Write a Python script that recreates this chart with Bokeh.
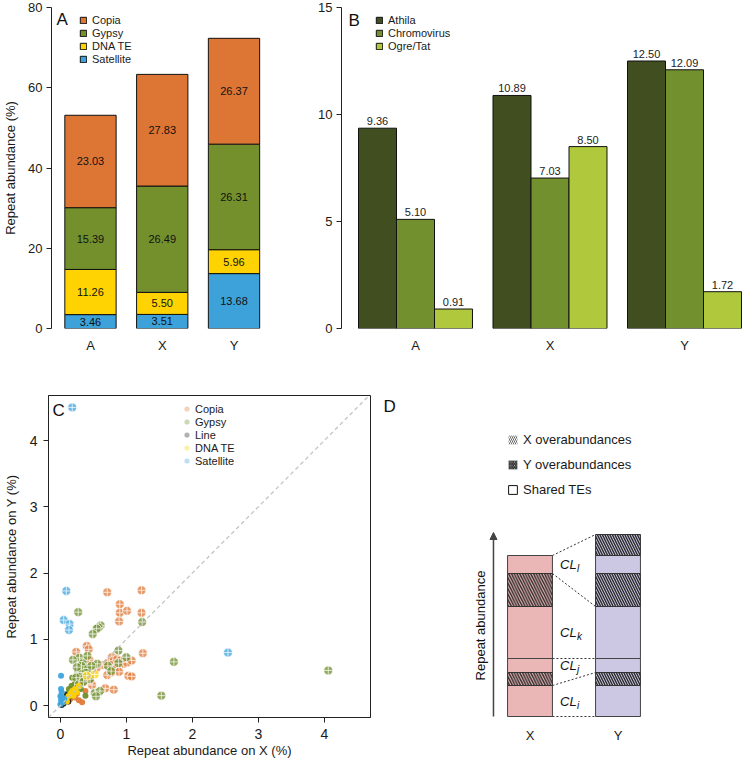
import numpy as np
from bokeh.plotting import figure
from bokeh.layouts import row, column
from bokeh.models import (Range1d, FixedTicker, Legend, LegendItem, Label, Slope,
                          Arrow, NormalHead, ColumnDataSource)
from bokeh.core.properties import value
from bokeh.embed import file_html
from bokeh.resources import INLINE

FONT = "Liberation Sans"
TXT = "#1a1a1a"

# ---------------- data ----------------
groups = ["A", "X", "Y"]

# Panel A (stacked, bottom to top)
a_series = ["Satellite", "DNA TE", "Gypsy", "Copia"]
a_satellite = [3.46, 3.51, 13.68]
a_dna_te = [11.26, 5.50, 5.96]
a_gypsy = [15.39, 26.49, 26.31]
a_copia = [23.03, 27.83, 26.37]
a_colors = ["#3DA2DA", "#FFD301", "#73902D", "#DD7634"]

# Panel B (grouped)
b_series = ["Athila", "Chromovirus", "Ogre/Tat"]
b_athila = [9.36, 10.89, 12.50]
b_chromovirus = [5.10, 7.03, 12.09]
b_ogre_tat = [0.91, 8.50, 1.72]
b_colors = ["#404E20", "#72902E", "#AFC83C"]

# Panel C (scatter, X vs Y abundance)
c_series = ["Copia", "Gypsy", "Line", "DNA TE", "Satellite"]
c_colors = ["#E07A38", "#6F8F2B", "#222222", "#FFD200", "#3FA4DD"]
copia_x = [0.71, 1.23, 0.90, 0.90, 1.01, 1.23, 0.89, 1.25, 0.40, 0.43, 0.24, 0.44, 0.65, 0.71,
           0.78, 0.81, 0.86, 0.91, 0.96, 1.01, 1.08, 0.85, 0.89, 0.71, 0.77, 1.03, 1.08, 0.48,
           0.68, 0.81, 0.29, 0.37, 0.45, 0.33, 0.25, 0.20, 0.22, 0.28, 0.33, 0.15, 0.12, 0.18,
           0.38, 0.10, 0.25, 0.55]
copia_y = [1.71, 1.74, 1.53, 1.40, 1.43, 1.40, 1.27, 0.79, 0.90, 0.85, 0.81, 0.69, 0.61, 0.64,
           0.73, 0.68, 0.70, 0.68, 0.63, 0.65, 0.68, 0.56, 0.51, 0.46, 0.50, 0.45, 0.44, 0.31,
           0.26, 0.24, 0.48, 0.40, 0.39, 0.35, 0.28, 0.22, 0.12, 0.08, 0.05, 0.10, 0.06, 0.17,
           0.22, 0.14, 0.18, 0.57]
gypsy_x = [0.27, 1.24, 0.61, 0.58, 0.55, 0.49, 0.88, 1.72, 1.53, 1.00, 4.06, 0.88, 0.72, 0.77,
           0.56, 0.35, 0.29, 0.34, 0.32, 0.19, 0.41, 0.30, 0.27, 0.38, 0.24, 0.18, 0.36, 0.45,
           0.22, 0.17, 0.28, 0.13, 0.20, 0.10, 0.14, 0.08, 0.23, 0.31, 0.52, 0.60, 0.38, 0.54,
           0.35, 0.42, 0.47, 0.25]
gypsy_y = [1.41, 1.26, 1.21, 1.18, 1.16, 1.08, 0.83, 0.66, 0.15, 0.73, 0.53, 0.64, 0.60, 0.52,
           0.63, 0.55, 0.72, 0.64, 0.60, 0.69, 0.75, 0.45, 0.50, 0.50, 0.42, 0.42, 0.42, 0.40,
           0.33, 0.30, 0.32, 0.25, 0.20, 0.18, 0.13, 0.10, 0.25, 0.25, 0.19, 0.22, 0.15, 0.14,
           0.36, 0.56, 0.60, 0.58]
line_x = [0.10, 0.12, 0.05, 0.02, 0.08]
line_y = [0.16, 0.06, 0.03, 0.01, 0.12]
dnate_x = [0.52, 0.40, 0.28, 0.22, 0.18, 0.15, 0.12, 0.09, 0.06, 0.04, 0.25, 0.20, 0.10]
dnate_y = [0.47, 0.45, 0.30, 0.25, 0.22, 0.18, 0.14, 0.10, 0.07, 0.05, 0.20, 0.15, 0.06]
sat_x = [0.18, 0.09, 0.05, 0.14, 0.13, 0.01, 2.54, 0.01, 0.02, 0.00, 0.03, 0.01, 0.04, 0.00, 0.06]
sat_y = [4.50, 1.73, 1.29, 1.23, 1.14, 0.45, 0.80, 0.25, 0.20, 0.14, 0.12, 0.08, 0.05, 0.02, 0.10]

# Panel D (schematic, arbitrary abundance units, bottom to top)
d_columns = ["X", "Y"]
d_x_levels = [0, 3.1, 4.4, 5.8, 11.0, 14.3, 16.1]
d_x_kinds = ["shared", "over", "shared", "shared", "over", "shared"]
d_y_levels = [0, 3.1, 4.4, 5.8, 11.0, 14.3, 16.1, 18.2]
d_y_kinds = ["shared", "over", "shared", "shared", "over", "shared", "over"]
d_link_x = [0, 3.1, 5.8, 14.3, 16.1]
d_link_y = [0, 4.4, 5.8, 11.0, 18.2]
d_clusters = ["i", "j", "k", "l"]
d_cluster_lo = [0, 4.4, 5.8, 14.3]
d_cluster_hi = [3.1, 5.8, 11.0, 16.1]
d_legend = ["X overabundances", "Y overabundances", "Shared TEs"]
d_colors = ["#EBB6B6", "#CCC7E3"]


# ---------------- helpers ----------------
def make_fig(**kw):
    p = figure(output_backend="svg", toolbar_location=None, **kw)
    p.grid.visible = False
    p.background_fill_color = "white"
    p.border_fill_color = "white"
    return p


def style_axes(p, label_size="13px", tick_size="13px"):
    for ax in p.axis:
        ax.major_label_text_font = FONT
        ax.major_label_text_font_size = tick_size
        ax.major_label_text_color = TXT
        ax.axis_label_text_font = FONT
        ax.axis_label_text_font_size = label_size
        ax.axis_label_text_font_style = "normal"
        ax.axis_label_text_color = TXT
        ax.minor_tick_line_color = None
        ax.major_tick_in = 0
        ax.major_tick_out = 5
        ax.axis_line_color = "#222"
        ax.major_tick_line_color = "#222"


def style_legend(leg, glyph, spacing, size="11px", standoff=5):
    leg.glyph_width = glyph
    leg.glyph_height = glyph
    leg.label_height = glyph
    leg.label_width = 10
    leg.spacing = spacing
    leg.padding = 0
    leg.margin = 0
    leg.label_standoff = standoff
    leg.border_line_color = None
    leg.background_fill_alpha = 0
    leg.label_text_font = FONT
    leg.label_text_font_size = size
    leg.label_text_color = TXT


def panel_label(p, x, y, t):
    p.add_layout(Label(x=x, y=y, text=t, text_font=FONT, text_font_size="17px",
                       text_baseline="top", text_align="left", text_color="#111"))


def hide_cat_axis(ax):
    ax.axis_line_color = None
    ax.major_tick_line_color = None


xg = [1, 2, 3]
NAN1 = [np.nan]

# ---------------- Panel A ----------------
xa0 = 0.457
pA = make_fig(width=270, height=355, x_range=Range1d(xa0, xa0 + 222 / 72.75), y_range=Range1d(0, 80),
              min_border_left=48, min_border_right=0, min_border_top=7, min_border_bottom=27)
pA.outline_line_color = None
srcA = ColumnDataSource(dict(x=xg, Satellite=a_satellite, Gypsy=a_gypsy, Copia=a_copia,
                             **{"DNA TE": a_dna_te}))
rA = pA.vbar_stack(a_series, x="x", width=0.715, fill_color=a_colors, line_color="#111",
                   line_width=1, source=srcA)
stackA = np.array([a_satellite, a_dna_te, a_gypsy, a_copia])
midsA = stackA.cumsum(axis=0) - stackA / 2
pA.text(x=np.tile(xg, 4), y=midsA.ravel(), text=[f"{v:.2f}" for v in stackA.ravel()],
        text_font=value(FONT), text_font_size="11px", text_align="center",
        text_baseline="middle", text_color="#111")
style_axes(pA, "13px", "13px")
pA.xaxis.ticker = FixedTicker(ticks=xg)
pA.xaxis.major_label_overrides = dict(zip(xg, groups))
hide_cat_axis(pA.xaxis[0])
pA.xaxis.major_label_standoff = 4
pA.yaxis.ticker = FixedTicker(ticks=[0, 20, 40, 60, 80])
pA.yaxis.axis_label = "Repeat abundance (%)"
pA.yaxis.axis_label_standoff = 7
pA.yaxis.major_label_standoff = 4
legA = Legend(items=[LegendItem(label=a_series[i], renderers=[rA[i]]) for i in [3, 2, 1, 0]],
              location=(28, 263))
style_legend(legA, 8, 1)
pA.add_layout(legA)
panel_label(pA, xa0 + 5 / 72.75, 79.3, "A")

# ---------------- Panel B ----------------
pB = make_fig(width=472, height=355, x_range=Range1d(0.4498, 3.4312), y_range=Range1d(0, 15),
              min_border_left=71, min_border_right=0, min_border_top=7, min_border_bottom=27)
pB.outline_line_color = None
wB = 0.2825
rB = []
for k, (vals, col) in enumerate(zip([b_athila, b_chromovirus, b_ogre_tat], b_colors)):
    xs = [g + (k - 1) * wB for g in xg]
    rB.append(pB.vbar(x=xs, top=vals, width=wB, fill_color=col, line_color="#111", line_width=1))
    pB.text(x=xs, y=vals, text=[f"{v:.2f}" for v in vals], y_offset=-3,
            text_font=value(FONT), text_font_size="11px", text_align="center",
            text_baseline="bottom", text_color="#222")
style_axes(pB, "13px", "13px")
pB.xaxis.ticker = FixedTicker(ticks=xg)
pB.xaxis.major_label_overrides = dict(zip(xg, groups))
hide_cat_axis(pB.xaxis[0])
pB.xaxis.major_label_standoff = 4
pB.yaxis.ticker = FixedTicker(ticks=[0, 5, 10, 15])
pB.yaxis.major_label_standoff = 4
legB = Legend(items=[LegendItem(label=s, renderers=[r]) for s, r in zip(b_series, rB)],
              location=(34, 276))
style_legend(legB, 8, 1)
pB.add_layout(legB)
panel_label(pB, 0.4498 + 7 / 134.5, 14.85, "B")

# ---------------- Panel C ----------------
pC = make_fig(width=378, height=405, x_range=Range1d(-0.18, 4.70), y_range=Range1d(-0.18, 4.68),
              min_border_left=48, min_border_right=8, min_border_top=40, min_border_bottom=43)
pC.outline_line_color = "#222"
pC.outline_line_width = 1
pC.add_layout(Slope(gradient=1, y_intercept=0, line_color="#c4c4c4", line_dash="4 3",
                    line_width=1.3))
c_data = [(copia_x, copia_y), (gypsy_x, gypsy_y), (line_x, line_y), (dnate_x, dnate_y),
          (sat_x, sat_y)]
leg_items = []
for name, col, (xs, ys) in zip(c_series, c_colors, c_data):
    xs = np.array(xs)
    ys = np.array(ys)
    big = xs + ys > 0.6
    pC.scatter(x=xs[~big], y=ys[~big], size=6, marker="circle", fill_color=col, fill_alpha=0.95,
               line_color=None)
    pC.scatter(x=xs[big], y=ys[big], size=9, marker="circle_cross", fill_color=col,
               fill_alpha=0.75, line_color="white", line_alpha=0.7, line_width=1)
    dummy = pC.scatter(x=NAN1, y=NAN1, marker="circle", fill_color=col, fill_alpha=0.35,
                       line_color=None)
    leg_items.append(LegendItem(label=name, renderers=[dummy]))
style_axes(pC, "13px", "14px")
pC.xaxis.ticker = FixedTicker(ticks=[0, 1, 2, 3, 4])
pC.yaxis.ticker = FixedTicker(ticks=[0, 1, 2, 3, 4])
pC.xaxis.axis_label = "Repeat abundance on X (%)"
pC.yaxis.axis_label = "Repeat abundance on Y (%)"
pC.xaxis.major_label_standoff = 6
pC.yaxis.major_label_standoff = 6
pC.xaxis.axis_label_standoff = 1
pC.yaxis.axis_label_standoff = 8
legC = Legend(items=leg_items, location=(132, 250))
style_legend(legC, 13, 0, "11px", 2)
pC.add_layout(legC)
panel_label(pC, -0.12, 4.60, "C")

# ---------------- Panel D ----------------
pD = make_fig(width=364, height=405, x_range=Range1d(-1.7216, 2.4148), y_range=Range1d(-0.1, 32.1),
              min_border_left=0, min_border_right=0, min_border_top=40, min_border_bottom=43,
              y_axis_location=None)
pD.outline_line_color = None
hw = 0.255
for ix, (levels, kinds, fill, hs) in enumerate(zip([d_x_levels, d_y_levels],
                                                   [d_x_kinds, d_y_kinds], d_colors, [5.5, 5])):
    lo = np.array(levels[:-1], dtype=float)
    hi = np.array(levels[1:], dtype=float)
    kd = np.array(kinds)
    sh = kd == "shared"
    pD.quad(left=ix - hw, right=ix + hw, bottom=lo[sh], top=hi[sh], fill_color=fill,
            line_color="#444", line_width=1)
    pD.quad(left=ix - hw, right=ix + hw, bottom=lo[~sh], top=hi[~sh], fill_color=fill,
            hatch_pattern="left_diagonal_line", hatch_color="#2a2a2a", hatch_scale=hs,
            hatch_weight=1.4, line_color="#333", line_width=1)
pD.segment(x0=hw, y0=d_link_x, x1=1 - hw, y1=d_link_y, line_dash="2 2", line_color="#333",
           line_width=1)
cmid = (np.array(d_cluster_lo) + np.array(d_cluster_hi)) / 2
pD.text(x=[0.53] * len(cmid), y=cmid, text=["CL"] * len(cmid), text_font=value(FONT),
        text_font_size="13px", text_font_style="italic", text_align="right",
        text_baseline="middle", text_color="#111")
pD.text(x=[0.535] * len(cmid), y=cmid, text=d_clusters, y_offset=4, text_font=value(FONT),
        text_font_size="10px", text_font_style="italic", text_align="left",
        text_baseline="middle", text_color="#111")
top_level = max(d_y_levels)
pD.add_layout(Arrow(end=NormalHead(size=7, fill_color="#444", line_color="#444"),
                    x_start=-0.415, y_start=0, x_end=-0.415, y_end=top_level + 0.2,
                    line_color="#444", line_width=1.5))
pD.text(x=[-0.56], y=[top_level / 2], text=["Repeat abundance"], angle=np.pi / 2,
        text_font=value(FONT), text_font_size="13px", text_align="center",
        text_baseline="middle", text_color="#111")
style_axes(pD, "13px", "13px")
pD.xaxis.ticker = FixedTicker(ticks=[0, 1])
pD.xaxis.major_label_overrides = dict(zip([0, 1], d_columns))
hide_cat_axis(pD.xaxis[0])
pD.xaxis.major_label_standoff = 5
rx = pD.quad(left=NAN1, right=NAN1, bottom=NAN1, top=NAN1, fill_color="white",
             hatch_pattern="left_diagonal_line", hatch_color="#666", hatch_scale=4,
             hatch_weight=1, line_color=None)
ry = pD.quad(left=NAN1, right=NAN1, bottom=NAN1, top=NAN1, fill_color="white",
             hatch_pattern="left_diagonal_line", hatch_color="#222", hatch_scale=3.5,
             hatch_weight=1.3, line_color=None)
rs = pD.quad(left=NAN1, right=NAN1, bottom=NAN1, top=NAN1, fill_color="white", line_color="#111",
             line_width=1)
legD = Legend(items=[LegendItem(label=s, renderers=[r]) for s, r in zip(d_legend, [rx, ry, rs])],
              location=(129, 220))
style_legend(legD, 11, 10, "13px", 5)
pD.add_layout(legD)
panel_label(pD, -1.665, 32.0, "D")

layout = column(row(pA, pB), row(pC, pD))
open("out.html", "w").write(file_html(layout, INLINE))
